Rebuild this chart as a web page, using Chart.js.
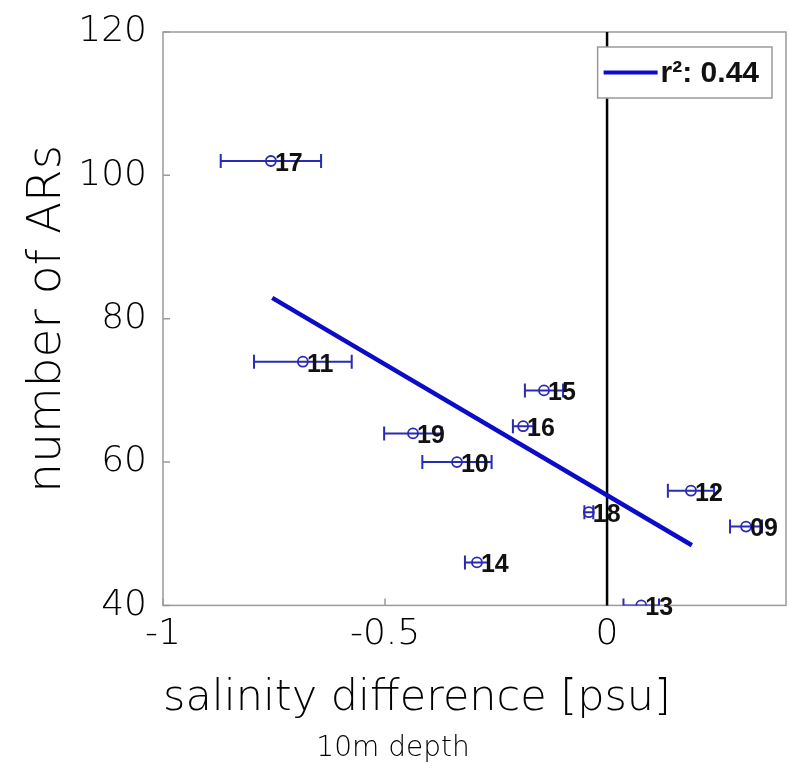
<!DOCTYPE html>
<html>
<head>
<meta charset="utf-8">
<script src="https://cdn.jsdelivr.net/npm/chart.js@4.4.0/dist/chart.umd.min.js"></script>
<style>
  html, body { margin: 0; padding: 0; background: #fff; }
</style>
</head>
<body>
<canvas id="chart" width="789" height="772"></canvas>
<script>
// year labels, salinity difference (psu) with +/- error, number of ARs
const years = ['17', '11', '15', '16', '19', '10', '12', '18', '09', '14', '13'];
const salinity = [-0.757, -0.685, -0.142, -0.189, -0.437, -0.338, 0.189, -0.041, 0.313, -0.293, 0.077];
const salinityErr = [0.113, 0.11, 0.043, 0.023, 0.065, 0.078, 0.052, 0.01, 0.036, 0.027, 0.04];
const arCount = [102, 74, 70, 65, 64, 60, 56, 53, 51, 46, 40];

// regression line end points
const fitX = [-0.754, 0.191];
const fitY = [82.9, 48.4];
const fitLabel = 'r²: 0.44';

const xTicks = [-1, -0.5, 0];
const yTicks = [40, 60, 80, 100, 120];

const pointBlue = '#2a2ab4';
const lineBlue = '#0b0bc8';
const lightFont = '"DejaVu Sans", Lato, sans-serif';

// one small line dataset per error bar, caps drawn as rotated line points
const errorSets = salinity.map((x, i) => ({
  type: 'line',
  data: [{ x: x - salinityErr[i], y: arCount[i] }, { x: x + salinityErr[i], y: arCount[i] }],
  borderColor: pointBlue,
  borderWidth: 2,
  pointStyle: 'line',
  rotation: 90,
  pointRadius: 7,
  pointBorderColor: pointBlue,
  pointBorderWidth: 2,
  fill: false
}));

const frame = {
  id: 'frame',
  beforeDatasetsDraw(chart) {
    const { ctx, chartArea: a, scales } = chart;
    ctx.save();
    ctx.strokeStyle = '#9a9a9a';
    ctx.lineWidth = 1.5;
    ctx.strokeRect(a.left, a.top, a.right - a.left, a.bottom - a.top);
    // inward tick marks
    ctx.beginPath();
    yTicks.forEach(v => {
      const y = scales.y.getPixelForValue(v);
      ctx.moveTo(a.left, y); ctx.lineTo(a.left + 7, y);
    });
    xTicks.forEach(v => {
      const x = scales.x.getPixelForValue(v);
      ctx.moveTo(x, a.bottom); ctx.lineTo(x, a.bottom - 7);
    });
    ctx.stroke();
    // zero line
    const x0 = scales.x.getPixelForValue(0);
    ctx.strokeStyle = '#000';
    ctx.lineWidth = 2.5;
    ctx.beginPath();
    ctx.moveTo(x0, a.top); ctx.lineTo(x0, a.bottom);
    ctx.stroke();
    ctx.restore();
  }
};

const yearLabels = {
  id: 'yearLabels',
  afterDatasetsDraw(chart) {
    const { ctx } = chart;
    const meta = chart.getDatasetMeta(0);
    ctx.save();
    ctx.font = 'bold 25px "Liberation Sans", Arial, sans-serif';
    ctx.fillStyle = '#111';
    ctx.textBaseline = 'middle';
    meta.data.forEach((el, i) => {
      ctx.fillText(years[i], el.x + 4, el.y + 3);
    });
    ctx.restore();
  }
};

const fitLegend = {
  id: 'fitLegend',
  afterDraw(chart) {
    const { ctx, chartArea: a } = chart;
    const right = a.right - 14, top = a.top + 15, h = 51;
    ctx.save();
    ctx.font = 'bold 30px "Liberation Sans", Arial, sans-serif';
    const w = 76 + ctx.measureText(fitLabel).width;
    const left = right - w;
    ctx.fillStyle = '#fff';
    ctx.fillRect(left, top, w, h);
    ctx.strokeStyle = '#9a9a9a';
    ctx.lineWidth = 1.5;
    ctx.strokeRect(left, top, w, h);
    ctx.strokeStyle = lineBlue;
    ctx.lineWidth = 4;
    ctx.beginPath();
    ctx.moveTo(left + 6, top + h / 2);
    ctx.lineTo(left + 60, top + h / 2);
    ctx.stroke();
    ctx.fillStyle = '#111';
    ctx.textBaseline = 'middle';
    ctx.fillText(fitLabel, left + 63, top + h / 2 + 1);
    ctx.restore();
  }
};

new Chart(document.getElementById('chart'), {
  type: 'scatter',
  data: {
    datasets: [
      {
        label: 'years',
        data: salinity.map((x, i) => ({ x, y: arCount[i] })),
        pointStyle: 'circle',
        pointRadius: 5,
        pointBorderWidth: 1.8,
        borderColor: pointBlue,
        backgroundColor: 'rgba(0,0,0,0)'
      },
      ...errorSets,
      {
        type: 'line',
        label: fitLabel,
        data: fitX.map((x, i) => ({ x, y: fitY[i] })),
        borderColor: lineBlue,
        borderWidth: 4.5,
        pointRadius: 0,
        fill: false
      }
    ]
  },
  options: {
    responsive: false,
    devicePixelRatio: 1,
    animation: false,
    layout: { autoPadding: false, padding: { top: 32, right: 3, left: 0, bottom: 0 } },
    plugins: {
      legend: { display: false },
      tooltip: { enabled: false },
      subtitle: {
        display: true,
        position: 'bottom',
        text: '10m depth',
        color: '#000',
        font: { family: lightFont, size: 28, weight: 200 },
        padding: { top: 0, bottom: 6 }
      }
    },
    scales: {
      x: {
        type: 'linear',
        min: -1,
        max: 0.403,
        afterBuildTicks: s => { s.ticks = xTicks.map(v => ({ value: v })); },
        afterFit: s => { s.height = 127; s.paddingLeft = 0; s.paddingRight = 0; },
        grid: { display: false, drawTicks: false },
        border: { display: false },
        ticks: {
          padding: 8,
          color: '#000',
          font: { family: lightFont, size: 36, weight: 200 },
          callback: v => String(v)
        },
        title: {
          display: true,
          align: 'start',
          text: 'salinity difference [psu]',
          color: '#000',
          font: { family: lightFont, size: 43, weight: 200 },
          padding: { top: 0, bottom: 8 }
        }
      },
      y: {
        type: 'linear',
        min: 40,
        max: 120,
        afterBuildTicks: s => { s.ticks = yTicks.map(v => ({ value: v })); },
        afterFit: s => { s.width = 163; s.paddingTop = 0; s.paddingBottom = 0; },
        grid: { display: false, drawTicks: false },
        border: { display: false },
        ticks: {
          padding: 16,
          color: '#000',
          font: { family: lightFont, size: 36, weight: 200 }
        },
        title: {
          display: true,
          text: 'number of ARs',
          color: '#000',
          font: { family: lightFont, size: 47, weight: 200 },
          padding: { top: 20, bottom: 0 }
        }
      }
    }
  },
  plugins: [frame, yearLabels, fitLegend]
});
</script>
</body>
</html>
